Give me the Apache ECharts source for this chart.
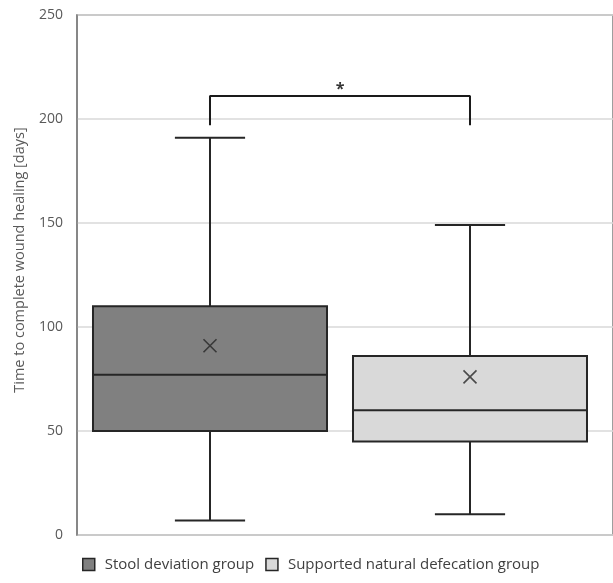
<!DOCTYPE html>
<html>
<head>
<meta charset="utf-8">
<script src="https://cdn.jsdelivr.net/npm/echarts@6/dist/echarts.min.js"></script>
<style>
  html, body { margin: 0; padding: 0; background: #fff; }
  #chart { width: 613px; height: 583px; }
</style>
</head>
<body>
<div id="chart"></div>
<script>
// groups and their box statistics: [min, Q1, median, Q3, max]
const groups = ['Stool deviation group', 'Supported natural defecation group'];
const boxStats = [
  [7, 50, 77, 110, 191],
  [10, 45, 60, 86, 149],
];
const means = [91, 76];
const groupColors = ['#808080', '#d9d9d9'];
// significance bracket
const bracketTop = 211;
const bracketFoot = 197;
const sigLabel = '*';
const yTicks = [0, 50, 100, 150, 200, 250];

const font = 'Open Sans';
const dark = '#262626';

function renderBox(params, api) {
  const x = api.value(0);
  const pMin = api.coord([x, api.value(1)]);
  const pQ1 = api.coord([x, api.value(2)]);
  const pMed = api.coord([x, api.value(3)]);
  const pQ3 = api.coord([x, api.value(4)]);
  const pMax = api.coord([x, api.value(5)]);
  const half = api.size([0.9, 0])[0] / 2;
  const cap = api.size([0.27, 0])[0] / 2;
  const cx = pMed[0];
  const line = { stroke: dark, lineWidth: 2 };
  return {
    type: 'group',
    children: [
      { type: 'line', shape: { x1: cx, y1: pQ3[1], x2: cx, y2: pMax[1] }, style: line },
      { type: 'line', shape: { x1: cx, y1: pQ1[1], x2: cx, y2: pMin[1] }, style: line },
      { type: 'line', shape: { x1: cx - cap, y1: pMax[1], x2: cx + cap, y2: pMax[1] }, style: line },
      { type: 'line', shape: { x1: cx - cap, y1: pMin[1], x2: cx + cap, y2: pMin[1] }, style: line },
      {
        type: 'rect',
        shape: { x: cx - half, y: pQ3[1], width: half * 2, height: pQ1[1] - pQ3[1] },
        style: { fill: api.visual('color'), stroke: dark, lineWidth: 2 },
      },
      { type: 'line', shape: { x1: cx - half, y1: pMed[1], x2: cx + half, y2: pMed[1] }, style: line },
    ],
  };
}

const boxSeries = groups.map((name, i) => ({
  name: name,
  type: 'custom',
  renderItem: renderBox,
  itemStyle: { color: groupColors[i] },
  encode: { x: 0, y: [1, 2, 3, 4, 5] },
  data: [[i].concat(boxStats[i])],
  z: 2,
}));

const myChart = echarts.init(document.getElementById('chart'));
const option = {
  animation: false,
  textStyle: { fontFamily: font },
  grid: {
    left: 77,
    right: 0,
    top: 15,
    bottom: 48,
    show: true,
    borderColor: '#7f7f7f',
    borderWidth: 1.5,
  },
  legend: {
    data: groups.map((name, i) => ({
      name: name,
      itemStyle: { color: groupColors[i], borderColor: dark, borderWidth: 1.5 },
    })),
    left: 77,
    top: 552,
    icon: 'rect',
    itemWidth: 12,
    itemHeight: 12,
    itemGap: 11,
    textStyle: { fontSize: 15, color: '#404040', fontFamily: font, padding: [0, 0, 0, 5] },
  },
  xAxis: {
    type: 'value',
    min: -0.5115,
    max: 1.55,
    axisLine: { show: false },
    axisTick: { show: false },
    axisLabel: { show: false },
    splitLine: { show: false },
  },
  yAxis: {
    type: 'value',
    min: yTicks[0],
    max: yTicks[yTicks.length - 1],
    interval: 50,
    name: 'Time to complete wound healing [days]',
    nameLocation: 'middle',
    nameGap: 50,
    nameTextStyle: { fontSize: 14.5, color: '#595959', fontFamily: font, padding: [0, 0, 0, 30] },
    axisLine: { show: true, onZero: false, lineStyle: { color: '#7f7f7f', width: 1.5 } },
    axisTick: { show: false },
    axisLabel: { fontSize: 14, color: '#595959', margin: 14, fontFamily: font },
    splitLine: { lineStyle: { color: '#d9d9d9', width: 1.5 } },
  },
  series: boxSeries.concat([
    {
      name: 'mean',
      type: 'scatter',
      symbol: 'path://M0,0L10,10M10,0L0,10',
      symbolSize: 13,
      itemStyle: { color: 'transparent', borderColor: dark, borderWidth: 1.6 },
      data: means.map((m, i) => [i, m]),
      z: 5,
    },
    {
      name: 'bracket',
      type: 'line',
      symbol: 'none',
      lineStyle: { color: '#1a1a1a', width: 2 },
      data: [[0, bracketFoot], [0, bracketTop], [1, bracketTop], [1, bracketFoot]],
      z: 5,
    },
    {
      name: 'sig',
      type: 'scatter',
      symbolSize: 0,
      data: [[0.5, bracketTop]],
      label: {
        show: true,
        position: 'top',
        distance: -1,
        formatter: sigLabel,
        fontSize: 16,
        fontWeight: 'bold',
        color: '#000',
        fontFamily: font,
      },
      z: 5,
    },
  ]),
};
option && myChart.setOption(option);
window.addEventListener('resize', () => {
  myChart.resize();
});
</script>
</body>
</html>
